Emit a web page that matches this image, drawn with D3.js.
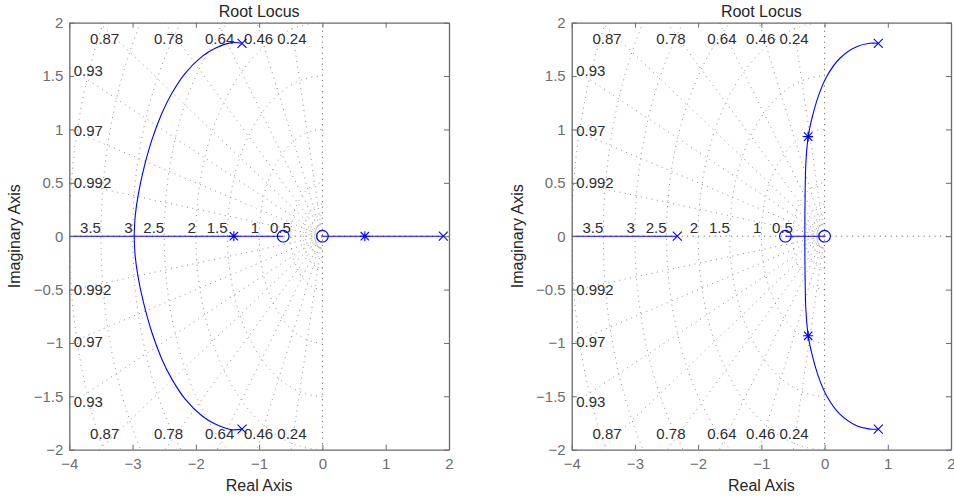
<!DOCTYPE html>
<html><head><meta charset="utf-8">
<script src="https://cdn.jsdelivr.net/npm/d3@7"></script>
<style>body{margin:0;background:#fff} svg{display:block}</style>
</head><body><svg id="c" width="954" height="497"></svg>
<script>
// ---------- data ----------
const xTicks = [-4, -3, -2, -1, 0, 1, 2];
const yTicks = [-2, -1.5, -1, -0.5, 0, 0.5, 1, 1.5, 2];
const dampingRatios = [0.24, 0.46, 0.64, 0.78, 0.87, 0.93, 0.97, 0.992];
const dampingLabels = ["0.24", "0.46", "0.64", "0.78", "0.87", "0.93", "0.97", "0.992"];
const naturalFreqs = [0.5, 1, 1.5, 2, 2.5, 3, 3.5];
const naturalFreqLabels = ["0.5", "1", "1.5", "2", "2.5", "3", "3.5"];
const unlabeledFreqs = [4];
const nearOriginFreqs = [0.12, 0.2, 0.3];

// left chart
const leftUpperBranch = [[-1.273, 1.807], [-1.431, 1.813], [-1.695, 1.760], [-1.905, 1.682], [-2.169, 1.526], [-2.379, 1.339], [-2.537, 1.152], [-2.695, 0.902], [-2.828, 0.621], [-2.916, 0.371], [-2.959, 0.184], [-2.975, 0]];
const leftLowerBranch = [[-1.273, -1.807], [-1.431, -1.813], [-1.695, -1.760], [-1.905, -1.682], [-2.169, -1.526], [-2.379, -1.339], [-2.537, -1.152], [-2.695, -0.902], [-2.828, -0.621], [-2.916, -0.371], [-2.959, -0.184], [-2.975, 0]];
const leftRealSegments = [[-4, -0.62], [0, 1.91]];
const leftPoles = [[-1.27, 1.807], [-1.27, -1.807], [1.91, 0]];
const leftZeros = [[-0.62, 0], [0, 0]];
const leftGainPoints = [[-1.40, 0], [0.67, 0]];

// right chart
const rightUpperBranch = [[0.848, 1.807], [0.717, 1.807], [0.506, 1.775], [0.242, 1.667], [0.032, 1.494], [-0.101, 1.308], [-0.206, 1.089], [-0.259, 0.933], [-0.296, 0.684], [-0.307, 0.434], [-0.311, 0.2], [-0.312, 0]];
const rightLowerBranch = [[0.848, -1.807], [0.717, -1.807], [0.506, -1.775], [0.242, -1.667], [0.032, -1.494], [-0.101, -1.308], [-0.206, -1.089], [-0.259, -0.933], [-0.296, -0.684], [-0.307, -0.434], [-0.311, -0.2], [-0.312, 0]];
const rightRealSegments = [[-4, -2.33], [-0.62, 0]];
const rightPoles = [[0.85, 1.807], [0.85, -1.807], [-2.33, 0]];
const rightZeros = [[-0.62, 0], [0, 0]];
const rightGainPoints = [[-0.26, 0.933], [-0.26, -0.933]];

// ---------- drawing ----------
const svg = d3.select("#c");
const FONT = "'Liberation Sans', Arial, Helvetica, sans-serif";
const BLUE = "#0000ff";
const GRID = "#8f8f8f";

function drawPanel(id, left, right, charts) {
  const top = 22.7, bottom = 449.7;
  const x = d3.scaleLinear().domain([-4, 2]).range([left, right]);
  const y = d3.scaleLinear().domain([-2, 2]).range([bottom, top]);
  const g = svg.append("g");

  const clipId = "clip" + id;
  svg.append("clipPath").attr("id", clipId).append("rect")
    .attr("x", left).attr("y", top).attr("width", right - left).attr("height", bottom - top);
  const plot = g.append("g").attr("clip-path", `url(#${clipId})`);
  const grid = plot.append("g").attr("fill", "none");

  // damping ratio rays
  dampingRatios.forEach(z => {
    [1, -1].forEach(s => {
      grid.append("line")
        .attr("x1", x(0)).attr("y1", y(0))
        .attr("x2", x(-10 * z)).attr("y2", y(s * 10 * Math.sqrt(1 - z * z)))
        .attr("stroke", GRID).attr("stroke-width", 1).attr("stroke-dasharray", "1 4.5");
    });
  });
  // natural frequency semicircles
  const angles = d3.range(-90, 90.5, 2).map(a => a * Math.PI / 180);
  const arcLine = d3.line();
  naturalFreqs.concat(unlabeledFreqs).forEach(w => {
    grid.append("path")
      .attr("d", arcLine(angles.map(t => [x(-w * Math.cos(t)), y(w * Math.sin(t))])))
      .attr("stroke", GRID).attr("stroke-width", 1).attr("stroke-dasharray", "1 4.5");
  });
  nearOriginFreqs.forEach((w, i) => {
    grid.append("path")
      .attr("d", arcLine(angles.map(t => [x(-w * Math.cos(t)), y(w * Math.sin(t))])))
      .attr("stroke", i === 0 ? "#b5b5b5" : "#a0a0a0").attr("stroke-width", 1)
      .attr("stroke-dasharray", i === 0 ? null : "1 3");
  });
  // axes lines (zeta = 0 and real axis)
  grid.append("line").attr("x1", x(0)).attr("x2", x(0)).attr("y1", y(-2)).attr("y2", y(2))
    .attr("stroke", "#555").attr("stroke-dasharray", "1 4.5");
  grid.append("line").attr("x1", x(-4)).attr("x2", x(2)).attr("y1", y(0)).attr("y2", y(0))
    .attr("stroke", "#555").attr("stroke-dasharray", "1 4.5");

  // grid labels
  const lab = g.append("g").attr("font-family", FONT).attr("font-size", 15).attr("fill", "#2e2e2e");
  dampingRatios.forEach((z, i) => {
    const slope = Math.sqrt(1 - z * z) / z; // |y|/|x|
    const xAtTop = -1.95 / slope;
    if (xAtTop > -4) {
      [1, -1].forEach(s => {
        lab.append("text").attr("x", x(xAtTop)).attr("y", y(s * 1.85)).attr("dy", "0.36em")
          .attr("text-anchor", "middle").text(dampingLabels[i]);
      });
    } else {
      const yAtLeft = 3.93 * slope;
      [1, -1].forEach(s => {
        lab.append("text").attr("x", x(-3.93)).attr("y", y(s * yAtLeft)).attr("dy", "0.36em")
          .attr("text-anchor", "start").text(dampingLabels[i]);
      });
    }
  });
  naturalFreqs.forEach((w, i) => {
    lab.append("text").attr("x", x(-w)).attr("y", y(0) - 3)
      .attr("text-anchor", "end").text(naturalFreqLabels[i]);
  });

  // locus
  const loc = plot.append("g").attr("fill", "none").attr("stroke", BLUE).attr("stroke-width", 1.1);
  const lineGen = d3.line().x(d => x(d[0])).y(d => y(d[1])).curve(d3.curveCatmullRom.alpha(0.5));
  loc.append("path").attr("d", lineGen(charts.upper));
  loc.append("path").attr("d", lineGen(charts.lower));
  charts.segments.forEach(s => {
    loc.append("line").attr("x1", x(s[0])).attr("x2", x(s[1])).attr("y1", y(0)).attr("y2", y(0));
  });

  const mk = g.append("g").attr("fill", "none").attr("stroke", BLUE).attr("stroke-width", 1.1);
  charts.poles.forEach(p => {
    const cx = x(p[0]), cy = y(p[1]), r = 4.5;
    mk.append("path").attr("d", `M${cx - r},${cy - r}L${cx + r},${cy + r}M${cx - r},${cy + r}L${cx + r},${cy - r}`);
  });
  charts.zeros.forEach(p => {
    mk.append("circle").attr("cx", x(p[0])).attr("cy", y(p[1])).attr("r", 5.8);
  });
  charts.gains.forEach(p => {
    const cx = x(p[0]), cy = y(p[1]), r = 4.5, d = 4.2;
    mk.append("path").attr("d", `M${cx - d},${cy - d}L${cx + d},${cy + d}M${cx - d},${cy + d}L${cx + d},${cy - d}M${cx},${cy - r - 0.5}L${cx},${cy + r + 0.5}M${cx - r - 0.5},${cy}L${cx + r + 0.5},${cy}`);
  });

  // axes box and ticks
  const axG = g.append("g").attr("font-family", FONT);
  const fmt = d3.format("");
  const styleAxis = sel => {
    sel.selectAll(".domain").attr("stroke", "#6a6a6a").attr("stroke-width", 1.3);
    sel.selectAll(".tick line").attr("stroke", "#6a6a6a");
    sel.selectAll("text").attr("fill", "#6e6e6e").attr("font-size", 15).attr("font-family", FONT);
  };
  axG.append("g").attr("transform", `translate(0,${bottom})`)
    .call(d3.axisBottom(x).tickValues(xTicks).tickSizeInner(-5).tickSizeOuter(0).tickPadding(9).tickFormat(fmt)).call(styleAxis);
  axG.append("g").attr("transform", `translate(0,${top})`)
    .call(d3.axisTop(x).tickValues(xTicks).tickSizeInner(-5).tickSizeOuter(0).tickFormat("")).call(styleAxis);
  axG.append("g").attr("transform", `translate(${left},0)`)
    .call(d3.axisLeft(y).tickValues(yTicks).tickSizeInner(-5).tickSizeOuter(0).tickPadding(6).tickFormat(fmt)).call(styleAxis);
  axG.append("g").attr("transform", `translate(${right},0)`)
    .call(d3.axisRight(y).tickValues(yTicks).tickSizeInner(-5).tickSizeOuter(0).tickFormat("")).call(styleAxis);
  axG.selectAll(".tick text").attr("font-size", 15);

  // titles
  const cx = (left + right) / 2;
  g.append("text").attr("x", cx).attr("y", 17).attr("text-anchor", "middle")
    .attr("font-family", FONT).attr("font-size", 16).attr("fill", "#262626").text("Root Locus");
  g.append("text").attr("x", cx).attr("y", 491).attr("text-anchor", "middle")
    .attr("font-family", FONT).attr("font-size", 16).attr("fill", "#262626").text("Real Axis");
  g.append("text").attr("transform", `translate(${left - 49},${(top + bottom) / 2}) rotate(-90)`)
    .attr("text-anchor", "middle")
    .attr("font-family", FONT).attr("font-size", 16).attr("fill", "#262626").text("Imaginary Axis");
}

drawPanel("L", 69.3, 449, {upper: leftUpperBranch, lower: leftLowerBranch, segments: leftRealSegments, poles: leftPoles, zeros: leftZeros, gains: leftGainPoints});
drawPanel("R", 571.7, 951, {upper: rightUpperBranch, lower: rightLowerBranch, segments: rightRealSegments, poles: rightPoles, zeros: rightZeros, gains: rightGainPoints});
</script>
</body></html>
